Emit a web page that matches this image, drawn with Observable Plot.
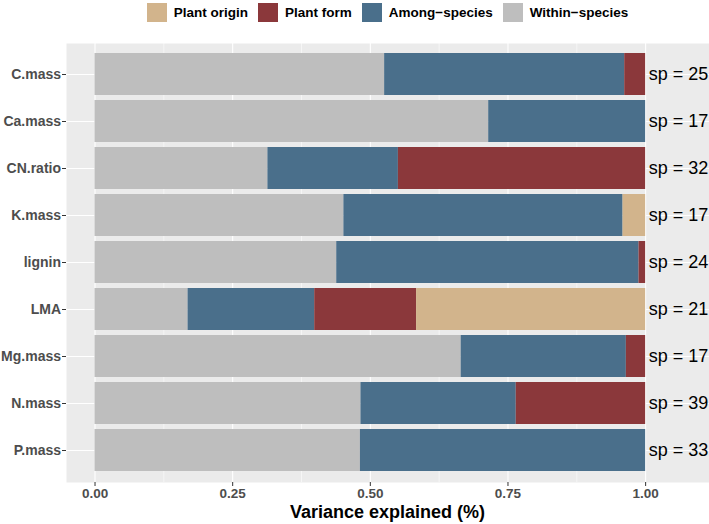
<!DOCTYPE html>
<html>
<head>
<meta charset="utf-8">
<script src="https://cdn.jsdelivr.net/npm/d3@7"></script>
<script src="https://cdn.jsdelivr.net/npm/@observablehq/plot@0.6"></script>
<style>
  html, body { margin: 0; padding: 0; background: #ffffff; }
  body { width: 709px; height: 524px; overflow: hidden; font-family: "Liberation Sans", Arial, Helvetica, sans-serif; }
  #legend { box-sizing: border-box; width: 709px; height: 32px; padding-left: 66px; padding-top: 3px;
            display: flex; justify-content: center; align-items: flex-start; }
  .item { display: flex; align-items: center; margin: 0 5px; height: 19px; }
  .key { width: 20px; height: 19px; margin-right: 7px; }
  .lab { font-size: 13.5px; font-weight: bold; color: #000; white-space: nowrap; }
  #chart svg { display: block; }
  #xtitle { width: 709px; box-sizing: border-box; padding-left: 66px; text-align: center;
            font-size: 18px; font-weight: bold; line-height: 20px; color: #000; }
</style>
</head>
<body>
<div id="legend"></div>
<div id="chart"></div>
<div id="xtitle">Variance explained (%)</div>
<script>
// ---- data ----
const traits = ["C.mass", "Ca.mass", "CN.ratio", "K.mass", "lignin", "LMA", "Mg.mass", "N.mass", "P.mass"];
const withinSpecies = [0.526, 0.715, 0.314, 0.452, 0.439, 0.169, 0.665, 0.483, 0.482];
const amongSpecies  = [0.436, 0.285, 0.237, 0.507, 0.549, 0.230, 0.300, 0.282, 0.518];
const plantForm     = [0.038, 0.000, 0.449, 0.000, 0.012, 0.185, 0.035, 0.235, 0.000];
const plantOrigin   = [0.000, 0.000, 0.000, 0.041, 0.000, 0.416, 0.000, 0.000, 0.000];
const speciesCount  = [25, 17, 32, 17, 24, 21, 17, 39, 33];
const components    = ["Within\u2212species", "Among\u2212species", "Plant form", "Plant origin"];
const legendOrder   = ["Plant origin", "Plant form", "Among\u2212species", "Within\u2212species"];
const componentColors = ["#BEBEBE", "#4A6F8B", "#8B383B", "#D2B48C"];
const xTicks = [0, 0.25, 0.5, 0.75, 1];
const xMinorTicks = [0.125, 0.375, 0.625, 0.875];

// ---- build tidy table ----
const series = [withinSpecies, amongSpecies, plantForm, plantOrigin];
const rows = [];
traits.forEach((t, i) => {
  series.forEach((s, k) => rows.push({trait: t, component: components[k], value: s[i]}));
});
const spRows = traits.map((t, i) => ({
  trait: t,
  total: series.reduce((a, s) => a + s[i], 0),
  label: "sp = " + speciesCount[i]
}));

// ---- legend ----
const legend = document.getElementById("legend");
legendOrder.forEach(name => {
  const item = document.createElement("div"); item.className = "item";
  const key = document.createElement("div"); key.className = "key";
  key.style.background = componentColors[components.indexOf(name)];
  const lab = document.createElement("div"); lab.className = "lab"; lab.textContent = name;
  item.appendChild(key); item.appendChild(lab); legend.appendChild(item);
});

// ---- chart ----
const chart = Plot.plot({
  width: 709,
  height: 470,
  marginTop: 11,
  marginBottom: 20,
  marginLeft: 66,
  marginRight: 0,
  style: {fontFamily: "'Liberation Sans', Arial, Helvetica, sans-serif", background: "#ffffff"},
  x: {domain: [-0.0518, 1.116], label: null},
  y: {domain: traits, paddingInner: 0.1, paddingOuter: 0.15, label: null},
  color: {domain: components, range: componentColors},
  marks: [
    Plot.frame({fill: "#EBEBEB", stroke: "none"}),
    Plot.gridX(xMinorTicks, {stroke: "#ffffff", strokeOpacity: 1, strokeWidth: 0.55}),
    Plot.gridX(xTicks, {stroke: "#ffffff", strokeOpacity: 1, strokeWidth: 1.1}),
    Plot.gridY({stroke: "#ffffff", strokeOpacity: 1, strokeWidth: 1.1}),
    Plot.barX(rows, Plot.stackX({x: "value", y: "trait", fill: "component", order: components})),
    Plot.text(spRows, {x: "total", y: "trait", text: "label", dx: 3, textAnchor: "start",
                       fontSize: 18, fill: "#000000"}),
    Plot.axisX(xTicks, {tickFormat: d3.format(".2f"), tickSize: 4, tickPadding: 2,
                        fontSize: 13.5, fontWeight: "bold", stroke: "#333333", fill: "#4D4D4D", label: null}),
    Plot.axisY({tickSize: 4, tickPadding: 1.5, fontSize: 14, fontWeight: "bold",
                stroke: "#333333", fill: "#4D4D4D", label: null})
  ]
});
document.getElementById("chart").appendChild(chart);
</script>
</body>
</html>
